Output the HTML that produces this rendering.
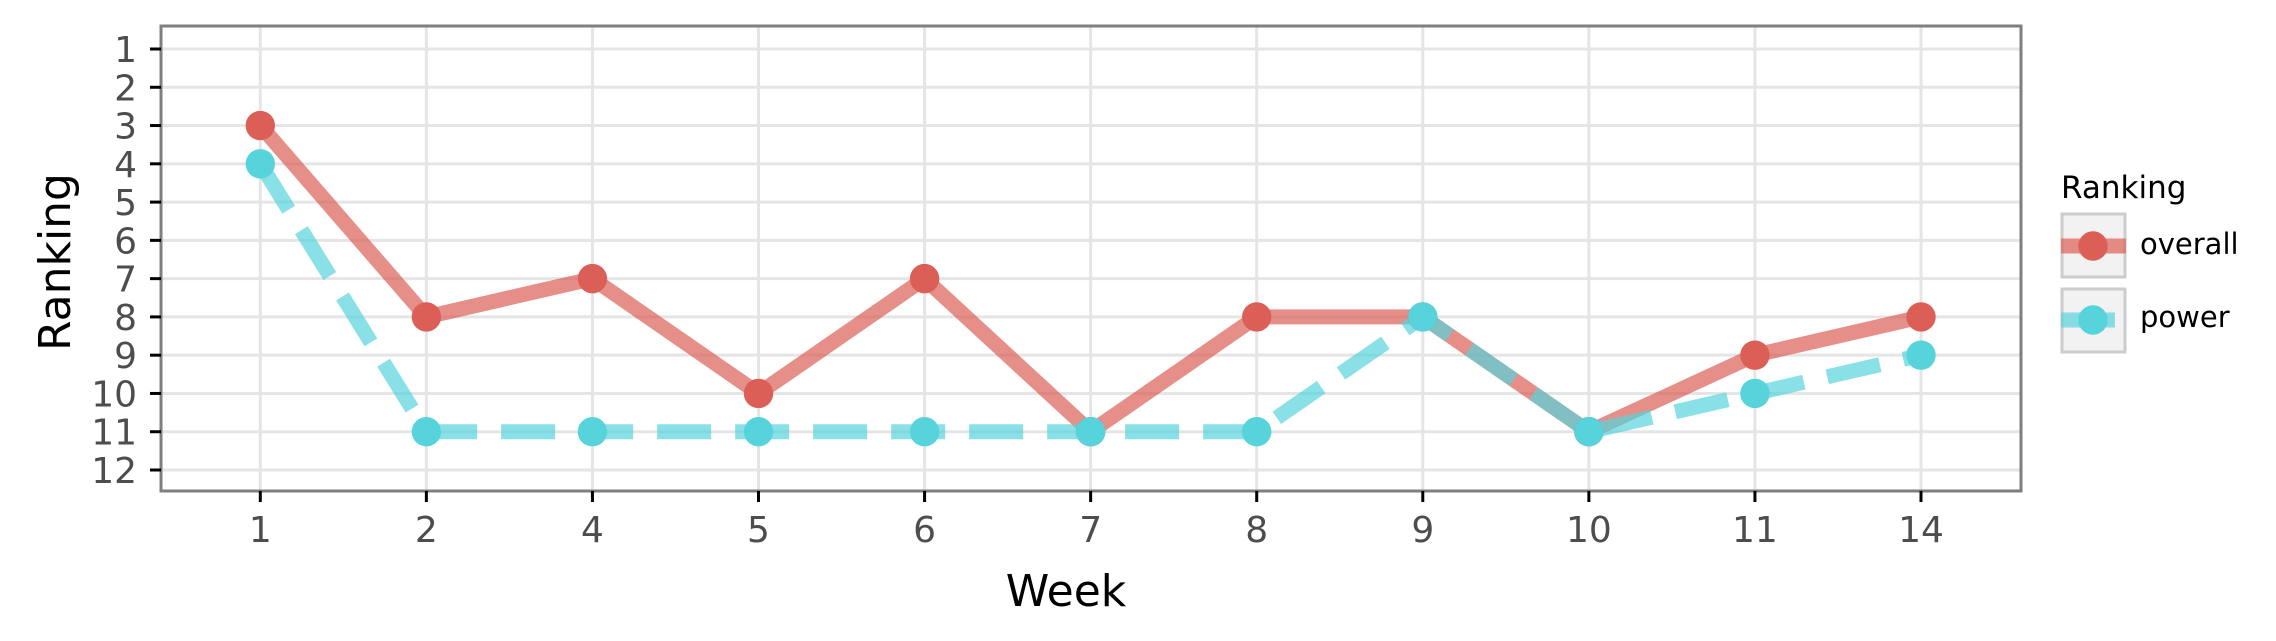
<!DOCTYPE html>
<html><head><meta charset="utf-8"><style>body{margin:0;background:#fff}svg{display:block;font-family:"DejaVu Sans","Liberation Sans",sans-serif}</style></head>
<body>
<svg id="chart" width="2276" height="641" viewBox="0 0 2276 641" xmlns="http://www.w3.org/2000/svg">
<rect width="2276" height="641" fill="#fff"/>
<g id="grid"></g>
<g id="lines"></g>
<g id="pts"></g>
<rect x="161" y="26" width="1860" height="465" fill="none" stroke="#7f7f7f" stroke-width="3"/>
<g id="axes"></g>
<text transform="translate(70,262) rotate(-90)" text-anchor="middle" font-size="44" fill="#000">Ranking</text>
<text x="1066" y="606" text-anchor="middle" font-size="44" fill="#000">Week</text>
<g>
<text x="2061" y="198" font-size="31" fill="#000">Ranking</text>
<rect x="2062" y="214" width="63" height="63" fill="#f2f2f2" stroke="#cccccc" stroke-width="3"/>
<line x1="2061" y1="246" x2="2126" y2="246" stroke="#db5f57" stroke-opacity="0.7" stroke-width="15"/>
<circle cx="2093" cy="246" r="14.7" fill="#db5f57"/>
<text x="2140" y="254" font-size="29" fill="#000">overall</text>
<rect x="2062" y="289" width="63" height="63" fill="#f2f2f2" stroke="#cccccc" stroke-width="3"/>
<line x1="2061" y1="320" x2="2115" y2="320" stroke="#57d3db" stroke-opacity="0.7" stroke-width="15"/>
<circle cx="2093" cy="320" r="14.7" fill="#57d3db"/>
<text x="2140" y="327" font-size="29" fill="#000">power</text>
</g>
</svg>
<script>
const weeks = ["1","2","4","5","6","7","8","9","10","11","14"];
const overall = [3,8,7,10,7,11,8,8,11,9,8];
const power = [4,11,11,11,11,11,11,8,11,10,9];
const yTicks = [1,2,3,4,5,6,7,8,9,10,11,12];
const NS="http://www.w3.org/2000/svg";
const x0=260.3, xStep=(1921-260.3)/(weeks.length-1);
const xS=i=>x0+i*xStep;
const yS=v=>49+(v-1)*(470-49)/11;
function mk(tag,attrs,parent){const e=document.createElementNS(NS,tag);for(const k in attrs)e.setAttribute(k,attrs[k]);document.getElementById(parent).appendChild(e);return e;}
yTicks.forEach(v=>{
  const g=mk('line',{x1:161,x2:2021,y1:yS(v),y2:yS(v),stroke:'#e5e5e5','stroke-width':3},'grid');
  
  
  const t=mk('line',{x1:150,x2:161,y1:yS(v),y2:yS(v),stroke:'#000','stroke-width':3},'axes');
  
  
  const l=mk('text',{x:137,y:yS(v)+13,'text-anchor':'end','font-size':36,fill:'#4d4d4d'},'axes');
  l.textContent=v;
  
  
});
weeks.forEach((w,i)=>{
  const g=mk('line',{x1:xS(i),x2:xS(i),y1:26,y2:491,stroke:'#e5e5e5','stroke-width':3},'grid');
  
  
  const t=mk('line',{x1:xS(i),x2:xS(i),y1:491,y2:502,stroke:'#000','stroke-width':3},'axes');
  
  
  const l=mk('text',{x:xS(i),y:542,'text-anchor':'middle','font-size':36,fill:'#4d4d4d'},'axes');
  l.textContent=w;
  
  
});
function series(vals,color,dash,name){
  const p=mk('polyline',{points:vals.map((v,i)=>xS(i)+','+yS(v)).join(' '),fill:'none',stroke:color,'stroke-opacity':0.7,'stroke-width':15,'stroke-dasharray':dash},'lines');
  
  
}
function points(vals,color,name){
  vals.forEach((v,i)=>{
    const c=mk('circle',{cx:xS(i),cy:yS(v),r:14.7,fill:color},'pts');
    
    
  });
}
series(overall,'#db5f57','none','overall');
series(power,'#57d3db','54,24','power');
points(overall,'#db5f57','overall');
points(power,'#57d3db','power');
</script>
</body></html>
